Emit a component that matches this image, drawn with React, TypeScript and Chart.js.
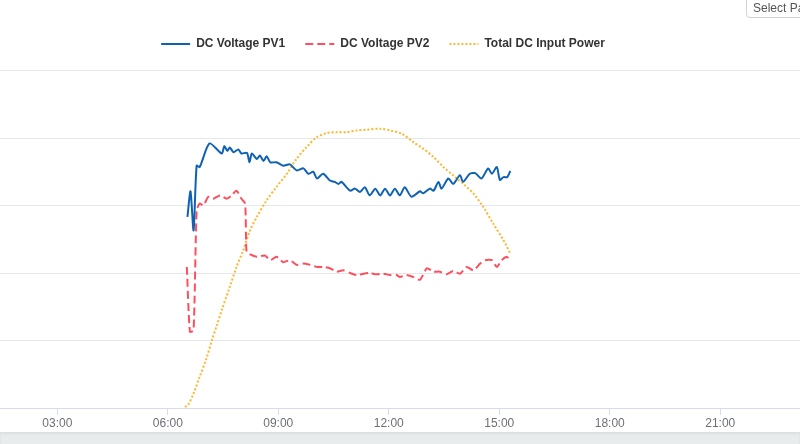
import React, { useEffect, useRef } from 'react';
import { Chart, registerables } from 'chart.js';

Chart.register(...registerables);

// ---- data ----
const xTickHours = [3, 6, 9, 12, 15, 18, 21];

const pv1Times = ['06:32','06:37','06:42','06:47','06:52','07:08','07:28','07:32','07:37','07:41','07:47','07:55','08:00','08:09','08:13','08:17','08:25','08:30','08:36','08:41','08:47','08:57','09:08','09:19','09:30','09:41','09:49','09:57','10:03','10:13','10:24','10:32','10:38','10:43','10:57','11:05','11:13','11:21','11:29','11:38','11:46','11:54','12:02','12:10','12:18','12:26','12:37','12:51','12:56','13:07','13:13','13:21','13:26','13:37','13:45','13:56','14:01','14:12','14:21','14:31','14:42','14:48','14:56','15:01','15:07','15:13','15:18'];
const pv1Volts = [283,321,263,359,357,392,377,388,381,386,379,383,377,378,364,377,369,374,366,373,364,364,359,361,352,355,347,350,340,347,337,335,332,335,322,325,320,327,315,325,315,325,315,325,315,327,313,321,318,325,322,335,325,340,332,345,335,347,348,340,355,347,357,338,342,342,351];

const pv2Times = ['06:31','06:36','06:42','06:47','06:52','06:58','07:06','07:14','07:25','07:36','07:44','07:52','08:00','08:06','08:08','08:11','08:25','08:38','08:47','08:57','09:08','09:19','09:30','09:41','09:52','10:03','10:13','10:24','10:35','10:46','10:57','11:08','11:19','11:29','11:40','11:51','12:02','12:13','12:18','12:29','12:40','12:51','13:02','13:13','13:23','13:34','13:45','13:56','14:07','14:18','14:29','14:37','14:48','14:56','15:04','15:12','15:16'];
const pv2Volts = [209,113,115,293,303,300,313,310,315,310,315,322,310,303,234,229,224,226,219,224,216,219,212,214,212,209,209,207,202,204,200,197,199,200,198,199,197,197,194,197,194,190,207,202,202,198,203,199,209,204,214,219,219,209,219,224,221];

const powerTimes = ['06:28','06:33','06:42','06:52','07:03','07:12','07:20','07:28','07:41','07:52','08:03','08:14','08:25','08:41','08:57','09:14','09:30','09:46','10:03','10:19','10:35','10:51','11:08','11:24','11:46','12:02','12:21','12:40','12:56','13:13','13:29','13:45','14:01','14:18','14:34','14:50','15:07','15:18'];
const powerWatts = [15,44,217,463,735,1006,1228,1450,1794,2090,2337,2633,2830,3077,3274,3472,3694,3865,4013,4073,4087,4087,4112,4123,4138,4112,4064,3939,3842,3718,3570,3447,3324,3176,2978,2732,2485,2288];

const seriesNames = ['DC Voltage PV1', 'DC Voltage PV2', 'Total DC Input Power'];

// visible window of the time axis (hours)
const X_MIN = 1.444;
const X_MAX = 23.166;

const toHours = (t: string) => {
  const [h, m] = t.split(':').map(Number);
  return h + m / 60;
};
const fmtHour = (v: number) => {
  const h = Math.floor(v);
  const m = Math.round((v - h) * 60);
  return `${String(h).padStart(2, '0')}:${String(m).padStart(2, '0')}`;
};
const pairs = (times: string[], vals: number[]) => times.map((t, i) => ({ x: toHours(t), y: vals[i] }));

const legendTweak = {
  id: 'legendTweak',
  beforeLayout(chart: any) {
    const lg = chart.legend;
    if (lg && !lg.__patched) {
      const orig = lg.fit;
      lg.fit = function () {
        orig.call(this);
        this.height += 10.5;
      };
      lg.__patched = true;
    }
  },
  afterLayout(chart: any) {
    const lg = chart.legend;
    if (lg) {
      lg.left -= 17;
      lg.right -= 17;
    }
  },
};

function LineChart() {
  const ref = useRef<HTMLCanvasElement | null>(null);
  useEffect(() => {
    if (!ref.current) return;
    const font = "'Liberation Sans', Arial, sans-serif";
    const chart = new Chart(ref.current, {
      type: 'line',
      data: {
        datasets: [
          {
            label: seriesNames[0],
            data: pairs(pv1Times, pv1Volts),
            borderColor: '#0f62b3',
            backgroundColor: '#0f62b3',
            borderWidth: 2,
            pointRadius: 0,
            tension: 0.25,
            yAxisID: 'y',
          },
          {
            label: seriesNames[1],
            data: pairs(pv2Times, pv2Volts),
            borderColor: '#ff4f5e',
            backgroundColor: '#ff4f5e',
            borderWidth: 2,
            borderDash: [8, 4],
            pointRadius: 0,
            tension: 0.2,
            yAxisID: 'y',
          },
          {
            label: seriesNames[2],
            data: pairs(powerTimes, powerWatts),
            borderColor: '#ffb52e',
            backgroundColor: '#ffb52e',
            borderWidth: 2,
            borderDash: [2, 2],
            pointRadius: 0,
            tension: 0.3,
            yAxisID: 'y1',
          },
        ],
      },
      options: {
        responsive: false,
        animation: false,
        layout: { padding: { top: 18, left: 0, right: 0, bottom: 0.6 } },
        font: { family: font },
        plugins: {
          legend: {
            position: 'top',
            labels: {
              usePointStyle: true,
              pointStyle: 'line',
              pointStyleWidth: 29,
              padding: 20,
              color: '#333333',
              font: { family: font, size: 12, weight: 'bold' },
              generateLabels: (c: any) => {
                const items = Chart.defaults.plugins.legend.labels.generateLabels(c);
                return items.map((it: any) => {
                  const ds = c.data.datasets[it.datasetIndex];
                  return {
                    ...it,
                    lineDash: ds.borderDash || [],
                    strokeStyle: ds.borderColor,
                    fillStyle: ds.borderColor,
                    lineWidth: 2,
                    pointStyle: 'line',
                  };
                });
              },
            },
          },
          tooltip: { enabled: false },
        },
        scales: {
          x: {
            type: 'linear',
            min: X_MIN,
            max: X_MAX,
            afterBuildTicks: (scale: any) => {
              scale.ticks = xTickHours.map((v) => ({ value: v }));
            },
            ticks: {
              callback: (v: any) => fmtHour(Number(v)),
              color: '#6e7079',
              font: { family: font, size: 12 },
              padding: 1,
              maxRotation: 0,
              autoSkip: false,
            },
            grid: {
              drawOnChartArea: false,
              drawTicks: true,
              tickLength: 7,
              color: '#d6dcee',
            },
            border: { display: true, color: '#d6dcee', width: 1 },
          },
          y: {
            min: 0,
            max: 500,
            ticks: { display: false, stepSize: 100 },
            grid: { color: '#e4e7ec', drawTicks: false },
            border: { display: false },
          },
          y1: {
            display: false,
            min: 0,
            max: 5000,
          },
        },
      },
      plugins: [legendTweak],
    } as any);
    return () => chart.destroy();
  }, []);
  return <canvas ref={ref} width={800} height={432} style={{ display: 'block' }} />;
}

export default function App() {
  useEffect(() => {
    document.body.style.margin = '0';
    document.body.style.overflow = 'hidden';
  }, []);
  return (
    <div
      style={{
        position: 'fixed',
        left: 0,
        top: 0,
        width: 800,
        height: 444,
        overflow: 'hidden',
        background: '#ffffff',
        fontFamily: "'Liberation Sans', Arial, sans-serif",
      }}
    >
      <LineChart />
      <div
        style={{
          position: 'absolute',
          left: 0,
          top: 432,
          width: 800,
          height: 12,
          background: '#e8eced',
          boxShadow: 'inset 0 2px 3px rgba(0,0,0,0.06)',
        }}
      />
      <div
        style={{
          position: 'absolute',
          left: 746,
          top: -9,
          width: 90,
          height: 27,
          boxSizing: 'border-box',
          border: '1px solid #cfd3d8',
          borderRadius: 4,
          background: '#fff',
          color: '#555',
          fontSize: 12,
          lineHeight: '14px',
          paddingTop: 9,
          paddingLeft: 6,
          whiteSpace: 'nowrap',
        }}
      >
        Select Parameter
      </div>
    </div>
  );
}
